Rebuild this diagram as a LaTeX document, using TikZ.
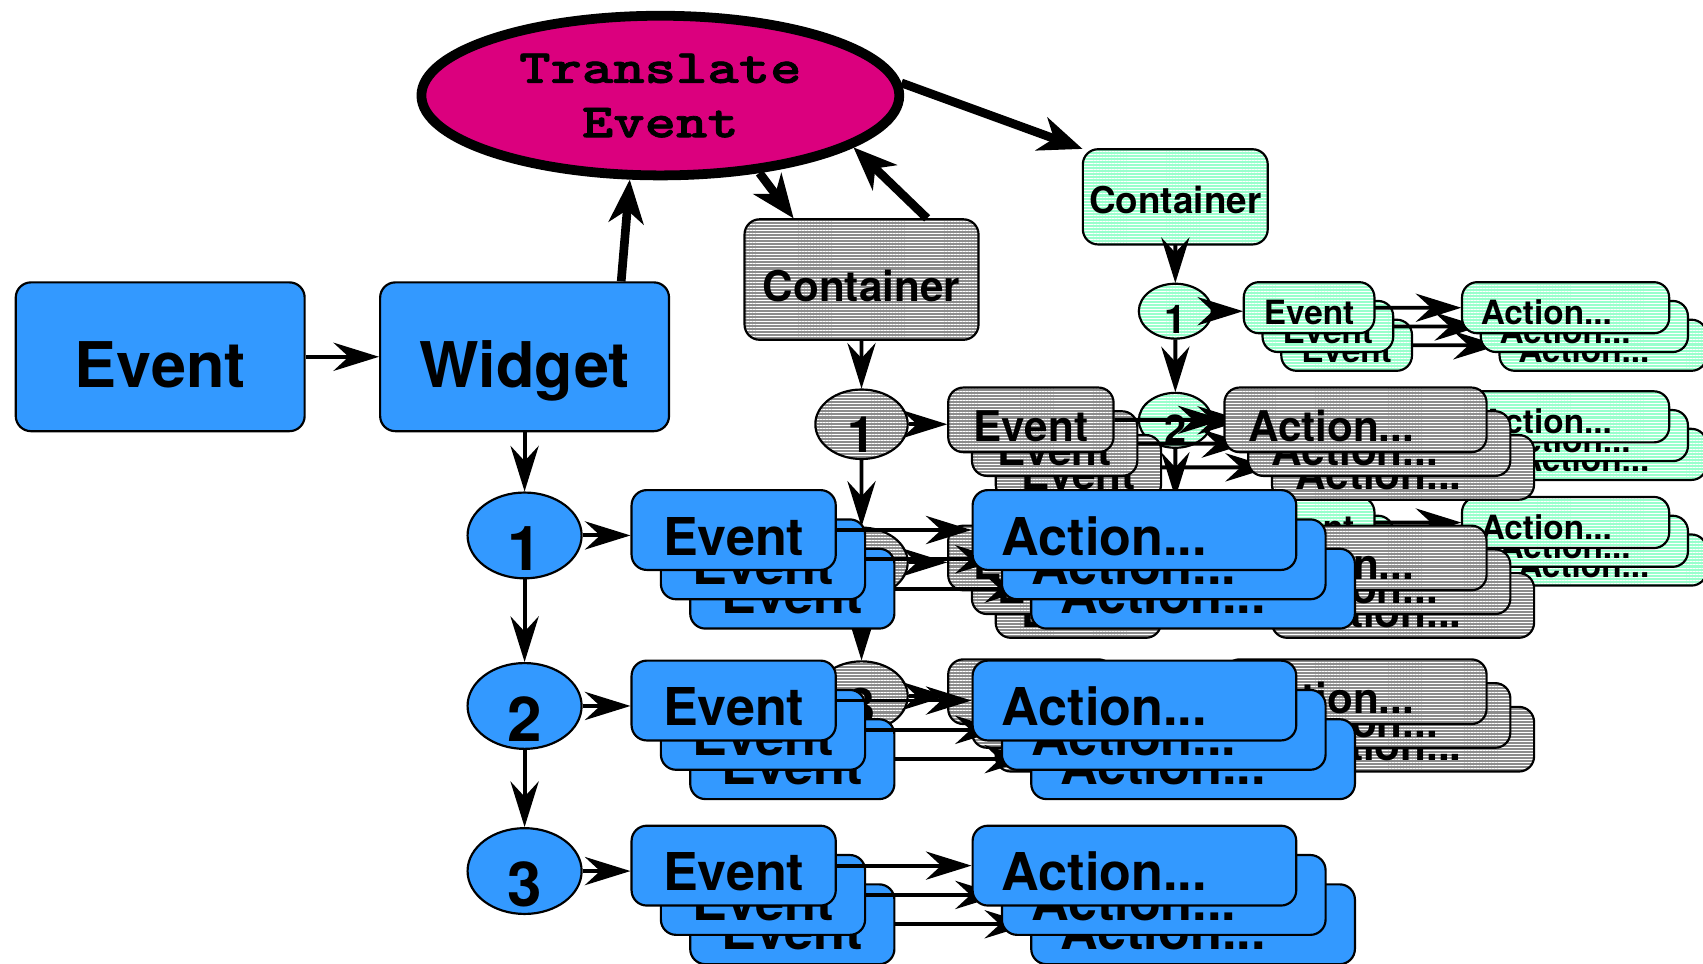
\documentclass[tikz,border=0pt]{standalone}
\usepackage{fontspec}
\setmainfont{TeX Gyre Heros}
\newfontfamily\transfont{lmmonolt10-bold.otf}[FakeStretch=1.25,FakeBold=1.5]
\usetikzlibrary{shapes.geometric,arrows.meta,patterns.meta}

\definecolor{evblue}{RGB}{51,153,255}
\definecolor{transpink}{RGB}{219,0,126}
\definecolor{contgray}{RGB}{140,140,140}
\definecolor{contgreen}{RGB}{153,255,204}

\newcommand{\bigfont}{\fontsize{29pt}{32pt}\selectfont\bfseries}
\newcommand{\boxfont}{\fontsize{24pt}{28pt}\selectfont\bfseries}

\tikzstyle{block} = [draw, rectangle, rounded corners=7pt, line width=1pt]
\tikzstyle{topblock} = [block, minimum width=133pt, minimum height=68.5pt, text height=28pt, text depth=0pt]
\tikzstyle{evblock} = [block, minimum width=94pt, minimum height=36.75pt, text height=23.3pt, text depth=0pt, font=\boxfont]
\tikzstyle{actblock} = [block, minimum width=149pt, minimum height=36.75pt, text height=23.3pt, text depth=0pt, text width=122pt, align=left, inner xsep=13.5pt, font=\boxfont]
\tikzstyle{sel} = [draw, ellipse, line width=1pt, minimum width=52.5pt, minimum height=39.5pt, inner sep=0pt]
\tikzstyle{seltext} = [inner sep=0pt, font=\fontsize{28.5pt}{30pt}\selectfont\bfseries]
\tikzstyle{arr} = [-{Stealth[length=21pt,width=13pt,inset=7pt]}, line width=1.8pt]
\tikzstyle{bigarr} = [-{Stealth[length=20pt,width=16pt,inset=6pt]}, line width=4pt]
\tikzstyle{bluebody} = [fill=evblue]
\tikzstyle{graybody} = [preaction={fill=contgray}, pattern={Lines[angle=0,distance=1.4pt,line width=0.45pt]}, pattern color=white]
\tikzstyle{greenbody} = [preaction={fill=contgreen}, pattern={Lines[angle=0,distance=1.4pt,line width=0.45pt]}, pattern color=white]

% one level: top block, three selectors, event and action stacks
% #1 shift, #2 scale, #3 body style, #4 top label, #5 label size, #6 name prefix
\newcommand{\drawlevel}[6]{%
\begin{scope}[shift={#1}, scale=#2, transform shape]
	\node [topblock, #3, font=\fontsize{#5}{#5}\selectfont\bfseries] (#6top) at (483,328.5) {#4};
	\foreach \n/\y in {1/493,2/650,3/802} {
		\node [sel, #3] (#6e\n) at (483,\y) {};
		\node [seltext] (#6n\n) at (483,\y+12) {\n};
		% stacks, back to front
		\foreach \k in {3,2,1} {
			\node [evblock, #3] (#6ev\n\k) at ({675.5+27*\k-27}, {\y-5+27*\k-27}) {Event};
			\node [actblock, #3] (#6ac\n\k) at ({1044.5+27*\k-27}, {\y-5+27*\k-27}) {Action...};
			\draw [arr] (#6ev\n\k) -- (#6ac\n\k);
		}
		\draw [arr] (#6e\n.east) -- (#6e\n.east -| #6ev\n1.west);
	}
	\draw [arr] (#6top) -- (#6e1);
	\draw [arr] (#6e1) -- (#6e2);
	\draw [arr] (#6e2) -- (#6e3);
\end{scope}}

\begin{document}
\begin{tikzpicture}[x=0.5pt,y=-0.5pt]
	\useasboundingbox (0,0) rectangle (1568,887);

	% deepest level first, widget level on top
	\drawlevel{(773,-29)}{0.64}{greenbody, text height=24.6pt}{Container}{26.5pt}{cb}
	\drawlevel{(402,-8.7)}{0.81}{graybody, text height=24.6pt}{Container}{24pt}{ca}
	\drawlevel{(0,0)}{1}{bluebody}{Widget}{29pt}{w}

	% incoming event and the translator
	\node [topblock, bluebody, font=\bigfont] (ev) at (147.5,328.5) {Event};
	\node [draw, ellipse, line width=4.5pt, fill=transpink, minimum width=220pt, minimum height=73.5pt,
		inner sep=0pt, align=center, font=\transfont\fontsize{22pt}{25pt}\selectfont] (te) at (608,88) {Translate\\Event};

	\draw [arr] (ev) -- (wtop);
	% translate loop
	\draw [bigarr] (wtop.38) -- (te.250);
	\draw [bigarr] (te.322) -- (catop.138);
	\draw [bigarr] (catop.43) -- (te.345);
	\draw [bigarr] (te.3) -- (cbtop.north west);
\end{tikzpicture}
\end{document}
